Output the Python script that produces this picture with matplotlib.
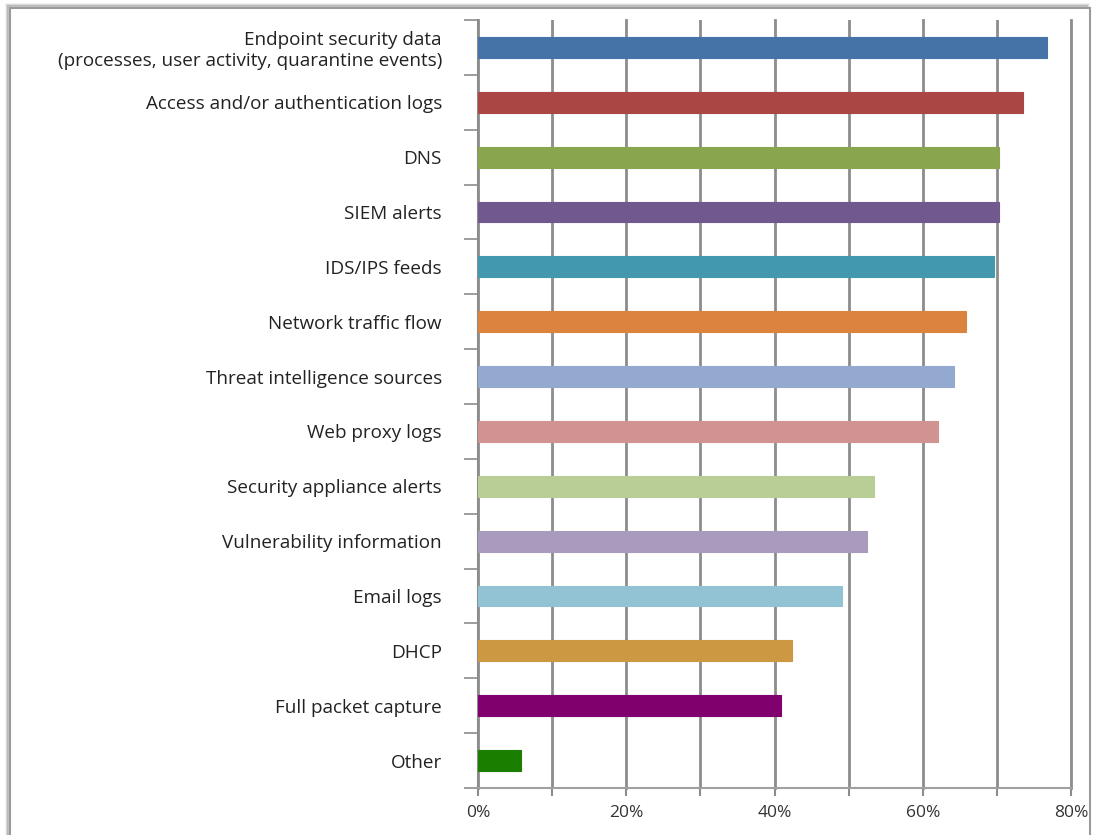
import matplotlib
matplotlib.use('Agg')
import matplotlib.pyplot as plt
from matplotlib.patches import Rectangle
from matplotlib.ticker import FixedLocator, FuncFormatter

# Data (percent of respondents)
categories = [
    'Endpoint security data\n(processes, user activity, quarantine events)',
    'Access and/or authentication logs',
    'DNS',
    'SIEM alerts',
    'IDS/IPS feeds',
    'Network traffic flow',
    'Threat intelligence sources',
    'Web proxy logs',
    'Security appliance alerts',
    'Vulnerability information',
    'Email logs',
    'DHCP',
    'Full packet capture',
    'Other',
]
values = [76.8, 73.5, 70.3, 70.3, 69.6, 65.9, 64.2, 62.1, 53.4, 52.5, 49.1, 42.4, 40.9, 5.8]
colors = ['#4572A7', '#AA4643', '#89A54E', '#71588F', '#4198AF', '#DB843D', '#93A9CF',
          '#D19392', '#B9CD96', '#A99BBD', '#92C3D4', '#CC9842', '#80006E', '#1A7F00']
x_ticks = [0, 20, 40, 60, 80]

plt.rcParams['font.family'] = ['Open Sans', 'DejaVu Sans']

fig = plt.figure(figsize=(10.98, 8.35), dpi=100)

# framed panel with a soft shadow, like the source screenshot
for i, a in enumerate([0.06, 0.1, 0.16]):
    fig.patches.append(Rectangle((6 / 1098 + i * 0.001, -0.1), (1088 - 6) / 1098 - i * 0.002,
                                 1.1 - 4 / 835 - i * 0.001, transform=fig.transFigure,
                                 facecolor='none', edgecolor=(0, 0, 0, a), lw=2, zorder=-10))
fig.patches.append(Rectangle((10 / 1098, -0.1), (1090 - 10) / 1098, 1.1 - 8 / 835,
                             transform=fig.transFigure, facecolor='white',
                             edgecolor='#9a9a9a', lw=1.5, zorder=-9))

ax = fig.add_axes([478 / 1098, 1 - 788 / 835, (1071 - 478) / 1098, (788 - 20) / 835])
ax.set_facecolor('none')

y = list(range(len(categories)))
ax.barh(y, values, height=0.38, color=colors, edgecolor=colors, linewidth=0.8, zorder=3)

ax.set_xlim(0, 80)
ax.set_ylim(len(categories) - 0.5, -0.5)

# vertical gridlines every 10%
ax.xaxis.set_major_locator(FixedLocator(x_ticks))
ax.xaxis.set_minor_locator(FixedLocator(range(10, 80, 20)))
ax.xaxis.set_major_formatter(FuncFormatter(lambda v, p: '%d%%' % v))
ax.grid(axis='x', which='both', color='#8c8c8c', lw=2, zorder=1)
for line in ax.get_xgridlines():
    line.set_clip_on(False)
ax.tick_params(axis='x', which='both', length=6, width=1.5, color='#8c8c8c',
               labelsize=12.5, labelcolor='#333333', pad=6)

# category labels between y ticks at boundaries
ax.yaxis.set_major_locator(FixedLocator(y))
ax.set_yticklabels(categories, fontsize=13.6, color='#222222', ha='right',
                   multialignment='right')
ax.tick_params(axis='y', which='major', length=0, pad=35)
ax.yaxis.set_minor_locator(FixedLocator([i - 0.5 for i in range(len(categories) + 1)]))
ax.tick_params(axis='y', which='minor', length=10, width=1.2, color='#8c8c8c')

for side in ['top', 'right']:
    ax.spines[side].set_visible(False)
ax.spines['left'].set_color('#8c8c8c')
ax.spines['left'].set_linewidth(1.5)
ax.spines['bottom'].set_color('#a0a0a0')
ax.spines['bottom'].set_linewidth(1.5)

# labels sit closer to the axis than the default tick pad allows with the minor ticks
ax.tick_params(axis='y', which='major', pad=26)

fig.savefig('out.png', dpi=100)
